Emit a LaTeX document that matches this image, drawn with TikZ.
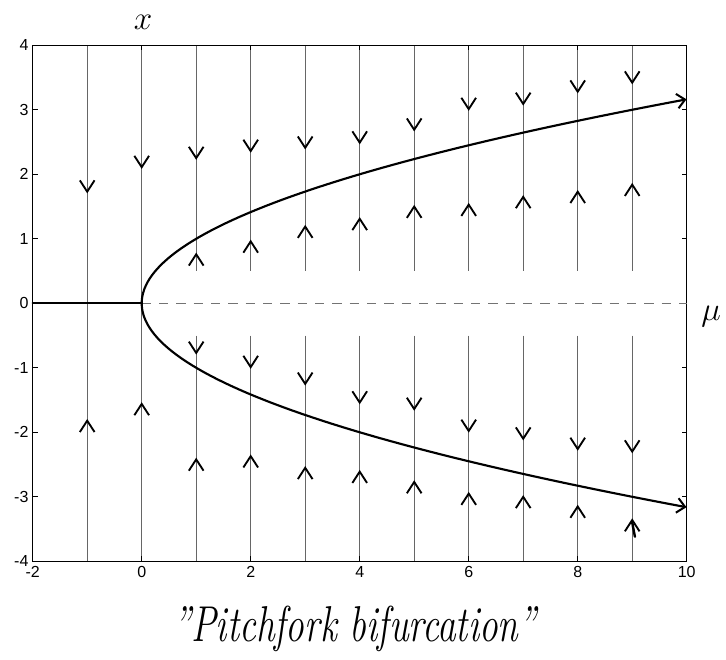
\documentclass[tikz,border=0pt]{standalone}
\usepackage{fontspec}
\newfontfamily\tickfont{Liberation Sans}
\usetikzlibrary{arrows.meta}
\begin{document}
\begin{tikzpicture}[x=40.875pt,y=48.375pt,
  field/.style={black!60, line width=0.9pt},
  branch/.style={line width=1.6pt, black, line cap=round},
  vhead/.style={line width=1.4pt, black, line join=miter},
  axisline/.style={line width=0.6pt, black},
  ticklab/.style={font=\tickfont\fontsize{12}{14}\selectfont, inner sep=1pt},
  hand/.style={inner sep=0pt},
  downv/.pic={\draw[vhead] (-5.5pt,8.5pt) -- (0,0) -- (5.5pt,8.5pt);},
  upv/.pic={\draw[vhead] (-5.5pt,-8.5pt) -- (0,0) -- (5.5pt,-8.5pt);}]
\useasboundingbox (-2.6,-5.53) rectangle (10.721,4.702);

% field lines
\foreach \m in {-1,0} \draw[field] (\m,4) -- (\m,-4);
\foreach \m in {1,...,9} {
  \draw[field] (\m,4) -- (\m,0.5);
  \draw[field] (\m,-0.5) -- (\m,-4);
}

% arrowheads on field lines
\foreach \m/\y in {-1/1.73,0/2.11,1/2.25,2/2.36,3/2.41,4/2.49,5/2.69,6/3.01,7/3.09,8/3.28,9/3.42}
  \pic at (\m,\y) {downv};
\foreach \m/\y in {1/0.76,2/0.96,3/1.19,4/1.31,5/1.50,6/1.53,7/1.65,8/1.73,9/1.84}
  \pic at (\m,\y) {upv};
\foreach \m/\y in {1/-0.77,2/-0.99,3/-1.25,4/-1.54,5/-1.64,6/-1.98,7/-2.10,8/-2.26,9/-2.30}
  \pic at (\m,\y) {downv};
\foreach \m/\y in {-1/-1.82,0/-1.56,1/-2.42,2/-2.37,3/-2.55,4/-2.61,5/-2.77,6/-2.95,7/-3.0,8/-3.15,9/-3.36}
  \pic at (\m,\y) {upv};
\draw[line width=1.8pt, line cap=round] (9.0,-3.40) -- (9.05,-3.62);

% axes box and ticks
\draw[axisline] (-2,-4) rectangle (10,4);
\foreach \y in {-4,...,4} {
  \draw[axisline] (-2,\y) -- ++(3.75pt,0);
  \draw[axisline] (10,\y) -- ++(-3.75pt,0);
  \node[ticklab, anchor=east, xshift=-2pt] at (-2,\y) {\y};
}
\foreach \x in {-2,0,...,10} {
  \draw[axisline] (\x,-4) -- ++(0,3.75pt);
  \draw[axisline] (\x,4) -- ++(0,-3.75pt);
  \node[ticklab, anchor=north, yshift=-2.5pt] at (\x,-4) {\x};
}

% equilibria
\draw[branch] (-2,0) -- (0,0);
\draw[black!55, line width=0.8pt, dash pattern=on 7pt off 6pt] (0,0) -- (10,0);
\draw[branch, -{Straight Barb[length=6pt,width=11pt,line width=1.5pt]}]
  plot[domain=0:3.1623, samples=60, variable=\t] ({\t*\t},{\t});
\draw[branch, -{Straight Barb[length=6pt,width=11pt,line width=1.5pt]}]
  plot[domain=0:3.1623, samples=60, variable=\t] ({\t*\t},{-\t});

% labels
\node[hand] (xlab) at (0.024,4.36) {\fontsize{28}{30}\selectfont$x$};
\node[hand] (mulab) at (10.45,-0.2) {\fontsize{28}{30}\selectfont$\mu$};
\node[hand] (title) at (3.91,-5.05) {\scalebox{1}[1.35]{\fontsize{28}{30}\selectfont\itshape "Pitchfork bifurcation"}};
\end{tikzpicture}
\end{document}
